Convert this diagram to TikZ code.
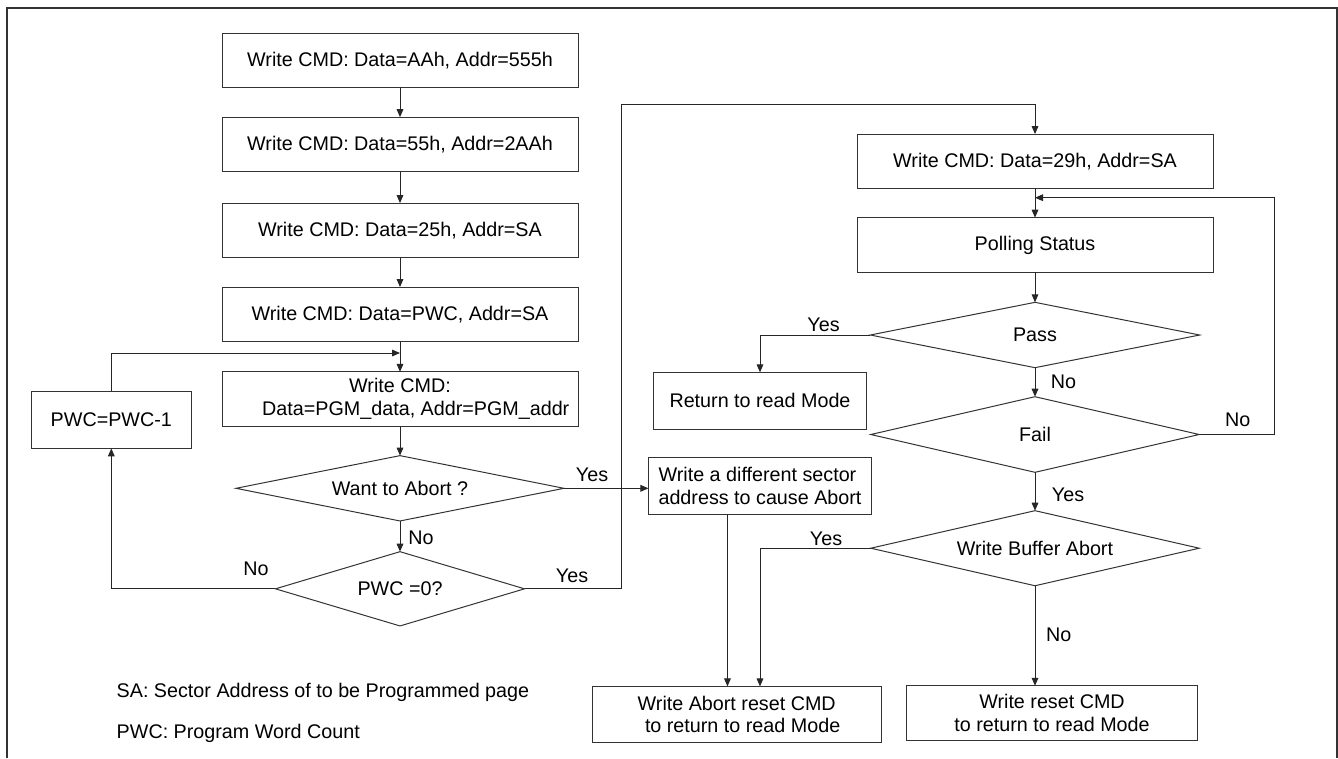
\documentclass[tikz,border=0pt]{standalone}
\usepackage{fontspec}
\setmainfont{Liberation Sans}
\usetikzlibrary{shapes.geometric,arrows.meta}
\begin{document}
\begin{tikzpicture}[x=0.75pt,y=-0.75pt,
	font=\fontsize{14.8}{17}\selectfont,
	box/.style={draw=black!80,line width=0.75pt,inner sep=0,outer sep=0,align=center},
	cond/.style={diamond,draw=black!80,line width=0.75pt,inner sep=0,outer sep=0,aspect=5},
	arr/.style={draw=black!85,line width=0.75pt,-{Triangle[length=6pt,width=5pt]}}]
		\useasboundingbox (0,0) rectangle (1338,758);
		\draw [black!80,line width=1.5pt] (6.7,758) -- (6.7,8.3) -- (1336.5,8.3) -- (1336.5,758);
		% left column
		\foreach \n/\y/\t in {b1/60.2/{Write CMD: Data=AAh, Addr=555h}, b2/144.3/{Write CMD: Data=55h, Addr=2AAh}, b3/230.2/{Write CMD: Data=25h, Addr=SA}, b4/314.2/{Write CMD: Data=PWC, Addr=SA}}{
			\node [box,minimum width=267pt,minimum height=40.7pt] at (400,\y) (\n) {\t};
			}
		\node [box,minimum width=267pt,minimum height=40.7pt] at (400,399) (b5) {Write CMD:\\\hspace*{1.6em}Data=PGM\_data, Addr=PGM\_addr};
		\node [box,minimum width=119.6pt,minimum height=43pt] at (111.3,419.7) (dec) {PWC=PWC-1};
		\node [cond,minimum width=246pt,minimum height=49pt] at (400,488.3) (abort) {Want to Abort ?};
		\node [cond,minimum width=186.8pt,minimum height=55.7pt] at (400,588.8) (zero) {PWC =0?};
		\node [box,minimum width=167.3pt,minimum height=42.5pt,align=left] at (760,485.7) (diff) {Write a different sector\\address to cause Abort};
		% right column
		\node [box,minimum width=267pt,minimum height=40.7pt] at (1035,161.2) (cmd29) {Write CMD: Data=29h, Addr=SA};
		\node [box,minimum width=267pt,minimum height=41pt] at (1035,245) (poll) {Polling Status};
		\node [cond,minimum width=247pt,minimum height=49pt] at (1035,335) (pass) {Pass};
		\node [box,minimum width=159.6pt,minimum height=42.5pt] at (760,400.7) (ret) {Return to read Mode};
		\node [cond,minimum width=246.3pt,minimum height=56.7pt] at (1035,434.5) (fail) {Fail};
		\node [cond,minimum width=246.3pt,minimum height=56.3pt] at (1035,548.2) (wba) {Write Buffer Abort};
		\node [box,minimum width=217pt,minimum height=42pt] at (736.7,714.4) (ares) {Write Abort reset CMD\\\hspace*{0.6em}to return to read Mode};
		\node [box,minimum width=218.7pt,minimum height=40.7pt] at (1052,712.9) (reset) {Write reset CMD\\to return to read Mode};
		% notes
		\node [anchor=west] at (112,692.7) (n1) {SA: Sector Address of to be Programmed page};
		\node [anchor=west] at (112,733.3) (n2) {PWC: Program Word Count};
		% connectors
		\foreach \a/\b in {b1/b2,b2/b3,b3/b4,b4/b5,b5/abort,abort/zero,cmd29/poll,poll/pass,pass/fail,fail/wba}
			\draw [arr] (\a.south) -- (\b.north);
		\coordinate (j1) at (400,353);
		\draw [arr] (dec.north) |- (j1);
		\draw [arr] (zero.west) -| (dec.south);
		\draw [arr] (abort.east) -- (abort.east -| diff.west);
		\coordinate (c1) at (621,104.3);
		\draw [arr] (zero.east) -| (c1) -| (cmd29.north);
		\coordinate (c2) at (1274,197.7);
		\coordinate (j2) at (1035,197.7);
		\draw [arr] (fail.east) -| (c2) -- (j2);
		\draw [arr] (pass.west) -| (ret.north);
		\coordinate (d1) at ([xshift=-24.4pt]diff.south);
		\draw [arr] (d1) -- (d1 |- ares.north);
		\draw [arr] (wba.west) -| (diff.south |- ares.north);
		\draw [arr] (wba.south) -- (wba.south |- reset.north);
		% yes / no labels
		\foreach \n/\p/\t in {ly1/{592,475}/Yes, ln1/{421,538}/No, ln2/{256,569}/No, ly2/{572,575.7}/Yes, ly3/{823.5,325}/Yes, ln3/{1063.5,381.7}/No, ln4/{1237.6,419.3}/No, ly4/{1068,495}/Yes, ly5/{826,538.3}/Yes, ln5/{1058.8,635}/No}
			\node at (\p) (\n) {\t};
	\end{tikzpicture}
\end{document}
